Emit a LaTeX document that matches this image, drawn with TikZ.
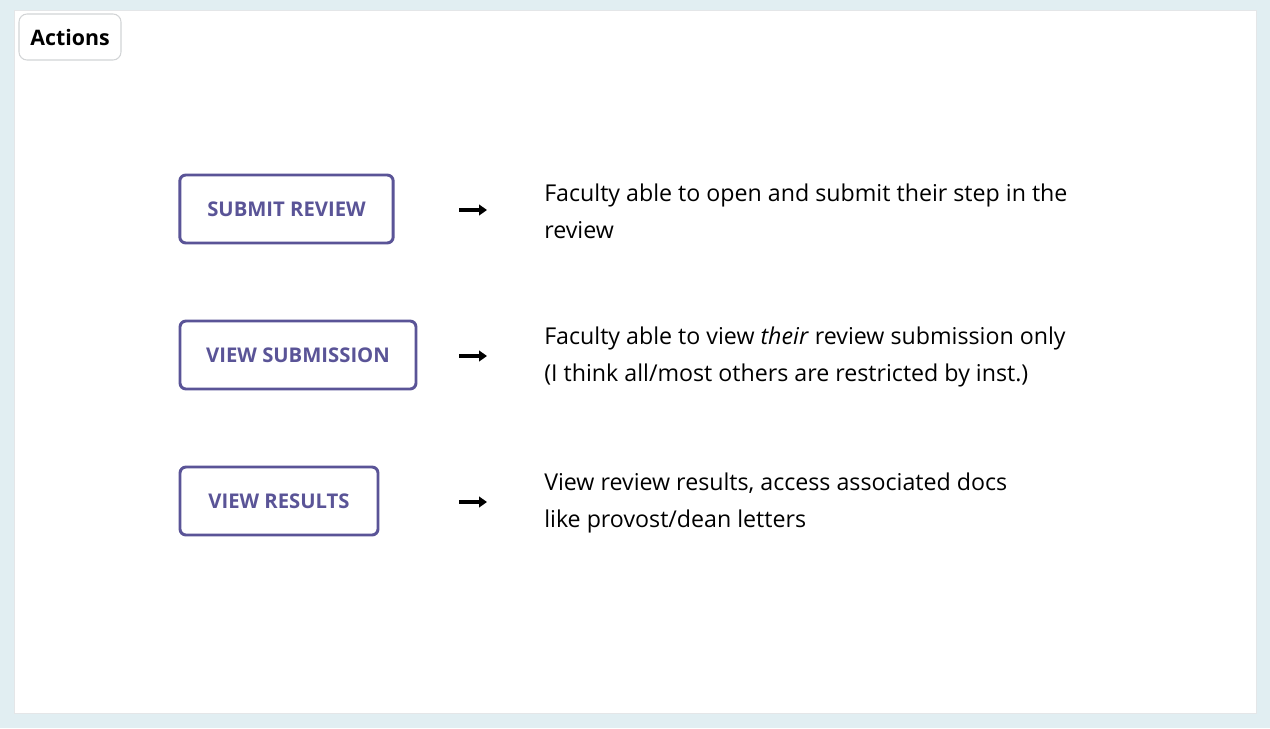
\documentclass[tikz,border=0pt]{standalone}
\usepackage{fontspec}
\setmainfont{Open Sans}
\usetikzlibrary{positioning}
\usetikzlibrary{arrows.meta}
\definecolor{bgblue}{HTML}{E1EEF2}
\definecolor{panelgray}{HTML}{E4E6E8}
\definecolor{taggray}{HTML}{D2D4D6}
\definecolor{btnpurple}{HTML}{5A5497}
\tikzstyle{every action} = []
\tikzstyle{action} = [draw=btnpurple, line width=2.2pt, rounded corners=4.5pt, text=btnpurple,
    font=\fontsize{15.2}{18}\selectfont\bfseries, minimum height=51pt, every action]
\tikzstyle{desc} = [anchor=west, align=left, inner sep=0pt, font=\fontsize{17.4}{27.75}\selectfont]
\tikzstyle{leadsto} = [line width=2.3pt, -{Triangle[length=6pt,width=8pt]}]

\begin{document}
\begin{tikzpicture}[x=0.75pt, y=-0.75pt]
        % background and panel
        \fill[bgblue] (0,0) rectangle (1270,728);
        \draw[panelgray, fill=white, line width=1pt] (14.5,10.5) rectangle (1256.5,713.5);

        \node[draw=taggray, fill=white, rounded corners=6pt, line width=0.8pt, minimum width=76.5pt,
            minimum height=34.5pt, font=\fontsize{16}{20}\selectfont\bfseries] (actions) at (70,37) {Actions};

        \node[action, minimum width=160pt] (submit) at (286.5,209) {SUBMIT REVIEW};
        \node[action, minimum width=177pt] (viewsub) at (298,355) {VIEW SUBMISSION};
        \node[action, minimum width=148.5pt] (viewres) at (279,501) {VIEW RESULTS};

        \coordinate (s1) at (459,210); \coordinate (e1) at (487,210);
        \coordinate (s2) at (459,356); \coordinate (e2) at (487,356);
        \coordinate (s3) at (459,502); \coordinate (e3) at (487,502);
        \draw[leadsto] (s1) -- (e1);
        \draw[leadsto] (s2) -- (e2);
        \draw[leadsto] (s3) -- (e3);

        \node[desc] (submittxt) at (544,211) {Faculty able to open and submit their step in the\\review};
        \node[desc] (viewsubtxt) at (544,357) {Faculty able to view \textit{their} review submission only\\(I think all/most others are restricted by inst.)};
        \node[desc] (viewrestxt) at (544,503) {View review results, access associated docs\\like provost/dean letters};

\end{tikzpicture}
\end{document}
